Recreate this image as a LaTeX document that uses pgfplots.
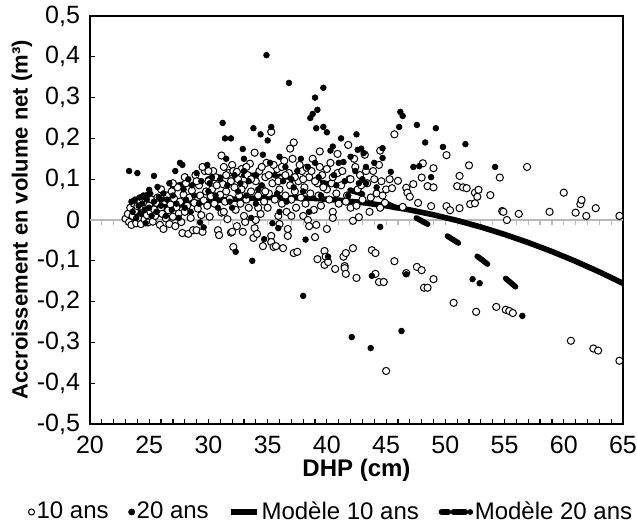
\documentclass[border=0pt]{standalone}
\usepackage{pgfplots}
\pgfplotsset{compat=1.18}
\usepackage{fontspec}
\setmainfont{Liberation Sans}
\begin{document}
\begin{tikzpicture}
\begin{axis}[
 width=266.5pt, height=204pt, scale only axis,
 xmin=20, xmax=65, ymin=-0.5, ymax=0.5,
 xtick={20,25,30,35,40,45,50,55,60,65}, minor x tick num=4,
 xticklabels={20,25,30,35,40,45,50,55,60,65},
 ytick={-0.5,-0.4,-0.3,-0.2,-0.1,0,0.1,0.2,0.3,0.4,0.5},
 yticklabels={{-0,5},{-0,4},{-0,3},{-0,2},{-0,1},{0},{0,1},{0,2},{0,3},{0,4},{0,5}},
 tick align=inside, xtick pos=left, ytick pos=left,
 major tick length=2.5pt, minor tick length=2.5pt,
 every tick/.style={black, line width=0.6pt},
 axis line style={black, line width=1pt},
 ticklabel style={font=\fontsize{12.5}{14}\selectfont},
 yticklabel style={xshift=-1.5pt},
 xticklabel style={yshift=-2.4pt},
 xlabel={DHP (cm)}, ylabel={Accroissement en volume net (m³)},
 xlabel style={font=\fontsize{12}{14}\selectfont\bfseries, at={([yshift=-23.3pt]axis description cs:0.5,0)}, anchor=center},
 ylabel style={font=\fontsize{11}{13}\selectfont\bfseries, at={([xshift=-34pt]axis description cs:0,0.5)}, anchor=center},
 legend style={at={([yshift=-44pt]axis description cs:0.452,0)}, anchor=center, draw=none, fill=none, inner sep=0pt,
   nodes={inner sep=0.8pt},
   font=\fontsize{12}{14}\selectfont, /tikz/every even column/.append style={column sep=9pt}},
 legend columns=4,
]
\draw[gray!55, line width=0.7pt] (axis cs:20,0) -- (axis cs:65,0);
\pgfplotsinvokeforeach{21,22,23,24,25,26,27,28,29,30,31,32,33,34,35,36,37,38,39,40,41,42,43,44,45,46,47,48,49,50,51,52,53,54,55,56,57,58,59,60,61,62,63,64}{
 \draw[gray!55, line width=0.6pt] (axis cs:#1,0) -- ([yshift=-2.5pt]axis cs:#1,0);
}
% 10 ans (open)
\addplot[only marks, mark=*, mark size=1.8pt, mark options={draw=black, fill=white, line width=0.5pt},
 legend image code/.code={\draw[black,line width=0.5pt,fill=white] (1.6pt,0) circle (1.5pt);}] coordinates {
(23.0,0.003)(23.2,0.015)(23.3,-0.005)(23.4,0.030)(23.5,-0.012)(23.6,0.010)(23.7,0.040)(23.8,0.022)(23.9,-0.008)(24.0,0.034)(24.1,0.005)(24.2,0.048)(24.3,-0.010)(24.4,0.018)(24.5,0.028)(24.6,0.002)(24.7,0.044)(24.8,0.012)(24.9,-0.006)(25.0,0.036)(25.1,0.020)(25.2,0.050)(25.3,-0.004)(25.4,0.026)
(25.5,0.010)(25.6,0.042)(25.7,0.055)(25.9,-0.012)(26.0,0.030)(26.1,0.015)(26.2,-0.022)(26.3,0.046)(26.4,0.004)(26.5,0.060)(26.6,0.024)(26.7,-0.010)(26.8,0.038)(26.9,0.070)(27.0,0.008)(27.1,0.052)(27.2,-0.015)(27.3,0.030)(27.4,0.080)(27.5,0.016)(27.6,0.045)(27.7,-0.005)(27.8,-0.032)(27.9,0.062)
(28.0,0.020)(28.1,0.090)(28.2,0.035)(28.3,-0.034)(28.4,0.055)(28.5,0.005)(28.6,0.072)(28.7,-0.025)(28.8,0.042)(28.9,0.110)(29.0,-0.025)(29.1,0.028)(29.2,0.085)(29.3,0.060)(29.4,0.012)(29.5,-0.029)(29.6,0.048)(29.7,0.120)(29.8,0.070)(29.9,0.035)(30.0,0.095)(30.1,0.008)(30.2,0.058)(30.3,0.075)
(30.5,0.040)(30.6,0.105)(30.8,-0.025)(30.9,-0.037)(31.0,0.062)(31.1,0.018)(31.2,0.088)(31.3,0.130)(31.4,0.045)(31.5,0.070)(31.6,0.002)(31.7,0.115)(31.8,0.052)(31.9,-0.031)(32.0,0.135)(32.0,-0.029)(32.1,-0.066)(32.2,0.080)(32.3,0.025)(32.4,-0.015)(32.5,0.100)(32.6,0.060)(32.7,0.040)(32.8,0.125)(32.9,-0.029)(33.0,0.085)
(33.1,-0.005)(33.2,0.050)(33.3,0.110)(33.4,0.030)(33.5,0.138)(33.6,0.070)(33.8,-0.044)(33.9,-0.020)(34.0,0.095)(34.1,-0.034)(34.2,0.060)(34.3,0.120)(34.4,0.015)(34.5,0.080)(34.6,-0.064)(34.7,0.045)(34.8,0.105)(34.9,0.140)(35.0,0.030)(35.1,0.065)(35.3,0.216)(35.3,-0.039)(35.3,-0.054)(35.4,0.090)(35.5,-0.066)(35.6,0.050)(35.7,-0.064)(35.8,0.125)(35.9,0.010)
(36.0,0.075)(36.1,0.100)(36.2,0.040)(36.3,-0.069)(36.4,0.145)(36.5,0.060)(36.6,0.020)(36.7,-0.039)(36.7,-0.022)(36.8,0.115)(36.9,0.085)(37.0,0.050)(37.1,0.150)(37.2,-0.081)(37.3,0.070)(37.4,0.030)(37.5,-0.078)(37.6,0.095)(37.2,0.190)(37.8,0.055)(37.9,0.120)(38.0,0.010)(38.1,0.080)(38.2,0.040)(38.4,0.000)(38.5,0.105)(38.6,0.065)(38.8,0.150)(38.9,0.025)
(39.0,-0.042)(39.1,-0.012)(39.2,-0.096)(39.2,0.090)(39.3,0.060)(39.4,0.130)(39.5,0.035)(39.6,0.110)(39.8,-0.076)(39.8,-0.110)(39.9,-0.090)(40.0,-0.022)(40.0,0.075)(40.1,-0.103)(40.2,0.050)(40.3,0.140)(40.4,0.090)(40.5,0.020)(40.7,-0.120)(40.8,0.065)(40.9,0.115)(41.0,0.040)(41.2,0.085)(41.4,-0.090)(41.5,-0.113)(41.5,-0.118)(41.6,-0.081)(41.6,-0.132)(41.7,0.060)(41.8,0.184)(41.9,0.100)
(42.0,0.030)(42.2,-0.069)(42.2,-0.002)(42.3,0.150)(42.5,-0.142)(42.6,0.075)(42.7,0.007)(42.8,0.110)(43.0,0.050)(43.2,0.160)(43.4,0.090)(43.6,0.020)(43.8,-0.074)(43.9,0.120)(44.1,-0.081)(44.1,-0.132)(44.2,0.065)(44.4,-0.152)(44.5,0.170)(44.6,0.095)(44.8,-0.152)(44.9,0.042)(45.0,-0.370)(45.0,0.075)(45.3,0.100)(45.5,0.078)(45.7,0.210)(45.7,-0.101)
(46.0,0.096)(46.4,0.032)(46.7,0.079)(46.7,-0.130)(46.8,0.067)(47.0,0.057)(47.3,0.088)(47.6,-0.115)(47.7,0.042)(48.0,0.104)(48.0,-0.123)(48.1,0.139)(48.2,-0.166)(48.5,0.083)(48.5,-0.166)(48.8,0.034)(49.0,0.127)(49.0,0.080)(49.0,-0.145)(50.1,0.159)(50.1,0.034)(50.4,0.024)(50.7,-0.203)(51.0,0.083)(51.2,0.108)(51.2,0.029)(51.5,0.080)(51.8,0.078)(52.0,0.134)(52.1,0.039)(52.5,0.067)(52.5,0.041)(52.6,-0.225)(52.7,0.057)(52.8,0.074)(53.8,0.061)(54.3,-0.213)(54.6,0.104)(54.8,0.022)(54.9,0.020)(55.1,-0.220)(55.2,0.000)(55.4,-0.223)(55.7,-0.228)(56.2,0.015)(56.9,0.130)
(58.8,0.020)(60.0,0.067)(60.6,-0.296)(61.0,0.018)(61.4,0.039)(61.5,0.049)(61.9,0.010)(62.5,-0.315)(62.7,0.029)(62.9,-0.320)(64.7,0.010)(64.7,-0.345)
(30.4,0.120)(30.7,0.085)(31.1,0.158)(31.5,0.110)(31.9,0.095)(32.1,0.120)(32.4,0.118)(32.8,0.075)(33.2,0.130)(33.6,0.100)(33.9,0.165)(34.2,0.030)(34.5,0.130)(34.8,0.070)(35.1,0.110)(35.5,0.135)(35.9,0.095)(36.2,0.130)(36.5,0.110)(36.9,0.175)(37.3,0.105)(37.7,0.135)(38.0,0.100)(38.3,0.128)(38.7,0.120)(39.0,0.095)(39.4,0.168)(39.7,0.080)(40.0,0.125)(40.5,0.105)(40.9,0.162)(41.3,0.120)(41.6,0.045)(42.0,0.100)(42.4,0.130)(42.9,0.085)(43.3,0.120)(43.7,0.055)(44.0,0.100)(44.4,0.135)(44.7,0.060)(31.3,0.020)(33.0,0.010)(34.0,0.000)(36.0,-0.010)(37.0,0.010)(38.5,-0.015)(40.5,0.005)(42.5,0.035)(44.5,0.030)
(26.0,0.075)(27.0,0.090)(28.0,0.105)(29.0,0.095)(29.5,0.130)(30.0,0.120)
};
\addlegendentry{10 ans}
% 20 ans (filled)
\addplot[only marks, mark=*, mark size=1.4pt, mark options={draw=black, fill=black},
 legend image code/.code={\fill[black] (1.6pt,0) circle (1.5pt);}] coordinates {
(23.3,0.120)(24.0,0.115)(23.5,0.045)(23.6,0.020)(23.8,0.050)(23.9,0.005)(24.1,0.035)(24.2,0.055)(24.3,0.015)(24.4,0.040)(24.6,0.025)(24.7,-0.008)(24.8,0.050)(25.0,0.074)(25.0,0.030)(25.2,0.010)(25.4,0.108)(25.4,0.045)(25.6,0.020)(25.7,0.081)(25.8,0.055)(26.0,0.035)(26.2,0.065)(26.4,0.010)(26.5,0.050)(26.7,0.090)(26.9,0.025)(27.0,0.060)(27.2,0.120)(27.3,0.040)(27.5,0.005)(27.6,0.140)(27.8,0.135)(27.9,0.075)(28.1,0.050)(28.3,0.100)(28.5,0.020)(28.6,0.085)(28.8,0.060)(29.0,0.115)(29.2,0.040)(29.4,0.095)(29.6,-0.018)(29.9,0.135)(30.0,0.070)(29.3,-0.006)
(30.3,0.105)(30.6,0.060)(31.2,0.238)(31.4,0.200)(31.0,0.100)(31.6,0.085)(31.9,0.200)(32.2,0.110)(32.3,-0.078)(32.5,0.070)(32.9,0.174)(33.0,0.120)(33.4,0.095)(33.6,0.005)(33.7,-0.100)(33.8,0.225)(34.0,0.110)(34.4,0.210)(34.5,0.085)(34.7,-0.047)(34.9,0.404)(35.0,0.195)(35.2,0.140)(35.3,0.228)(35.4,-0.008)(35.6,0.110)(35.9,-0.020)(36.0,0.155)(36.3,0.095)(36.8,0.336)(37.0,0.100)(37.5,0.120)(38.0,-0.186)(38.2,-0.048)(38.4,0.130)(38.6,0.250)(38.8,0.260)(39.0,0.300)(39.2,0.270)(39.1,0.225)(39.3,0.105)(39.7,0.324)(39.7,0.228)(40.0,0.215)(40.1,-0.090)(40.3,0.170)(40.6,0.110)(41.0,0.140)(41.5,0.095)(42.0,0.155)(42.1,-0.287)(42.4,0.120)(42.9,0.175)(43.3,0.090)(43.7,-0.314)(43.8,-0.137)(44.0,0.140)(44.5,-0.017)(44.7,0.176)(44.7,0.152)(45.4,0.118)(46.1,0.228)(46.2,0.265)(46.3,-0.272)(46.4,0.255)(46.7,-0.133)(47.3,0.130)(47.6,0.233)(47.8,0.132)(48.3,0.190)(48.8,0.105)(49.2,0.225)(49.8,0.179)(51.7,0.186)(52.3,-0.145)(52.9,-0.155)(54.2,0.130)(56.5,-0.235)
(30.8,0.030)(31.8,0.045)(32.7,0.090)(33.2,0.060)(34.2,0.075)(35.8,0.065)(36.6,0.045)(37.2,0.080)(38.0,0.070)(39.5,0.060)(40.8,0.085)(41.8,0.060)(43.0,0.100)(44.2,0.080)
(42.5,0.210)(42.6,0.172)(43.1,0.164)(43.3,0.130)(41.4,0.142)(42.7,0.090)
(31.5,0.150)(33.0,0.150)(34.6,0.160)(36.5,0.130)(37.8,0.150)(39.0,0.140)(40.5,0.180)(41.2,0.200)(30.1,0.090)(32.0,0.030)(34.0,0.040)(36.0,0.020)(38.5,0.020)(28.0,0.030)(26.0,0.050)(24.5,0.060)
};
\addlegendentry{20 ans}
% Modele 10 ans
\addplot[black, line width=2.8pt, line join=round,
 legend image code/.code={\draw[line width=2.8pt] (0,0) -- (13pt,0);}] coordinates {
(23,0.01275)(25,0.02475)(27,0.03475)(29,0.04275)(31,0.04875)(33,0.05275)(35,0.05475)(37,0.05475)(39,0.05275)(41,0.04875)(43,0.04275)(45,0.03475)(47,0.02475)(49,0.01275)(51,-0.00125)(53,-0.01725)(55,-0.03525)(57,-0.05525)(59,-0.07725)(61,-0.10125)(63,-0.12725)(65,-0.15525)
};
\addlegendentry{Modèle 10 ans}
% Modele 20 ans
\addplot[black, line width=2.8pt, line join=round, line cap=round, dash pattern=on 6.5pt off 11.5pt, dash phase=11pt,
 legend image code/.code={\draw[line width=2.8pt, dash pattern=on 6pt off 2.5pt] (0,0) -- (14.5pt,0);}] coordinates {
(23,0.0412)(25,0.0639)(27,0.0821)(29,0.0958)(31,0.1049)(33,0.1094)(35,0.1094)(37,0.1049)(39,0.0958)(41,0.0821)(43,0.0639)(45,0.0412)(47,0.0138)(49,-0.0180)(51,-0.0544)(53,-0.0954)(55,-0.1409)(56,-0.1654)
};
\addlegendentry{Modèle 20 ans}
\end{axis}
\pgfresetboundingbox
\path (-45pt,-49.5pt) rectangle (273.5pt,212pt);
\end{tikzpicture}
\end{document}
